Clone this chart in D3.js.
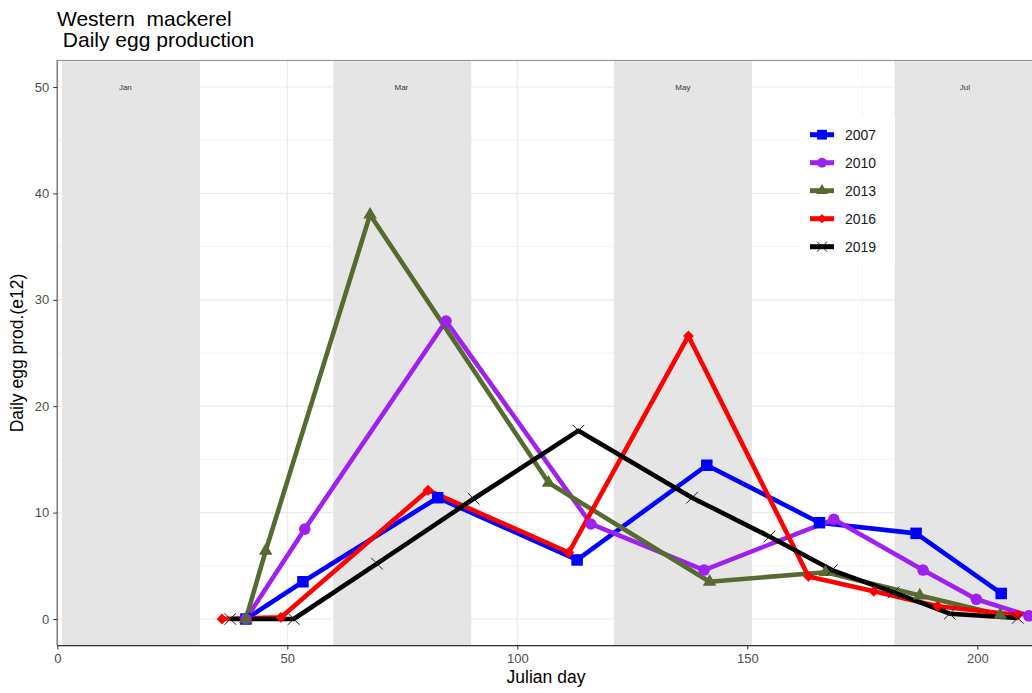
<!DOCTYPE html>
<html>
<head>
<meta charset="utf-8">
<script src="https://cdn.jsdelivr.net/npm/d3@7"></script>
<style>
  html, body { margin: 0; padding: 0; background: #fff; }
  svg { display: block; font-family: "Liberation Sans", Arial, sans-serif; }
</style>
</head>
<body>
<svg id="chart" width="1032" height="693"></svg>
<script>
// ---- data ----
const years = ["2007", "2010", "2013", "2016", "2019"];
const days2007 = [41, 53.4, 82.7, 113, 141.2, 165.7, 186.7, 205.2];
const egg2007  = [0, 3.5, 11.4, 5.55, 14.45, 9.05, 8.05, 2.4];
const days2010 = [41, 53.8, 84.5, 116, 140.6, 168.8, 188.2, 199.8, 211.2];
const egg2010  = [0, 8.45, 28.0, 8.93, 4.6, 9.37, 4.6, 1.85, 0.3];
const days2013 = [41, 45.3, 68, 106.8, 141.8, 167, 187.5, 205];
const egg2013  = [0, 6.4, 38.0, 12.8, 3.5, 4.4, 2.2, 0.4];
const days2016 = [35.8, 48.6, 80.6, 111.2, 137.2, 163.3, 177.5, 191.4, 208.8];
const egg2016  = [0, 0.15, 12.1, 6.25, 26.6, 4.0, 2.6, 1.2, 0.37];
const days2019 = [37.6, 51.4, 69.5, 90.5, 113.3, 138, 154.8, 168.4, 181.8, 194, 208.8];
const egg2019  = [0, 0, 5.2, 11.3, 17.7, 11.4, 7.75, 4.6, 2.5, 0.5, 0.1];
const monthLabels = ["Jan", "Mar", "May", "Jul"];
const monthStart  = [1, 60, 121, 182];
const monthEnd    = [31, 90, 151, 212];
const monthLabelDay = [14.8, 74.8, 136, 197.3];
const xTicks = [0, 50, 100, 150, 200];
const yTicks = [0, 10, 20, 30, 40, 50];

const seriesDays = [days2007, days2010, days2013, days2016, days2019];
const seriesEgg  = [egg2007, egg2010, egg2013, egg2016, egg2019];
const colors = ["#0000FF", "#A020F0", "#556B2F", "#FF0000", "#000000"];
const shapes = ["square", "circle", "triangle", "diamond", "cross"];

const series = years.map((y, i) => ({
  year: y, color: colors[i], shape: shapes[i],
  pts: seriesDays[i].map((d, j) => ({ x: d, y: seriesEgg[i][j] }))
}));

// ---- layout ----
const svg = d3.select("#chart");
const L = 57.3, R = 1032.5, T = 60.4, B = 645.6;
const x = d3.scaleLinear().domain([0, 212]).range([L, R]);
const y = d3.scaleLinear().domain([-2.5, 52.5]).range([B, T]);

svg.append("rect").attr("width", 1032).attr("height", 693).attr("fill", "#fff");

svg.append("clipPath").attr("id", "pclip")
  .append("rect").attr("x", L).attr("y", T).attr("width", R - L).attr("height", B - T);

const panel = svg.append("g").attr("clip-path", "url(#pclip)");

// grid
const yMinor = [5, 15, 25, 35, 45];
const xMinor = [25, 75, 125, 175];
panel.selectAll(".ymin").data(yMinor).enter().append("line")
  .attr("x1", L).attr("x2", R).attr("y1", d => y(d)).attr("y2", d => y(d))
  .attr("stroke", "#ebebeb").attr("stroke-width", 0.6);
panel.selectAll(".xmin").data(xMinor).enter().append("line")
  .attr("y1", T).attr("y2", B).attr("x1", d => x(d)).attr("x2", d => x(d))
  .attr("stroke", "#ebebeb").attr("stroke-width", 0.6);
panel.selectAll(".ymaj").data(yTicks).enter().append("line")
  .attr("x1", L).attr("x2", R).attr("y1", d => y(d)).attr("y2", d => y(d))
  .attr("stroke", "#ebebeb").attr("stroke-width", 1.2);
panel.selectAll(".xmaj").data(xTicks).enter().append("line")
  .attr("y1", T).attr("y2", B).attr("x1", d => x(d)).attr("x2", d => x(d))
  .attr("stroke", "#ebebeb").attr("stroke-width", 1.2);

// month bands
panel.selectAll(".band").data(monthLabels).enter().append("rect")
  .attr("x", (d, i) => x(monthStart[i]))
  .attr("width", (d, i) => x(monthEnd[i]) - x(monthStart[i]))
  .attr("y", T).attr("height", B - T)
  .attr("fill", "#e5e5e5");
panel.selectAll(".mlab").data(monthLabels).enter().append("text")
  .attr("x", (d, i) => x(monthLabelDay[i]))
  .attr("y", y(50)).attr("dy", "0.35em")
  .attr("text-anchor", "middle").attr("font-size", 8).attr("fill", "#333")
  .text(d => d);

// lines
const line = d3.line().x(d => x(d.x)).y(d => y(d.y));
panel.selectAll(".ser").data(series).enter().append("path")
  .attr("d", d => line(d.pts))
  .attr("fill", "none").attr("stroke", d => d.color)
  .attr("stroke-width", 4.6).attr("stroke-linejoin", "round").attr("stroke-linecap", "butt");

// markers
function drawMarker(g, shape, color, cx, cy, s) {
  s = s || 1;
  if (shape === "square") {
    const a = 11.5 * s;
    g.append("rect").attr("x", cx - a / 2).attr("y", cy - a / 2).attr("width", a).attr("height", a).attr("fill", color);
  } else if (shape === "circle") {
    g.append("circle").attr("cx", cx).attr("cy", cy).attr("r", 5.8 * s).attr("fill", color);
  } else if (shape === "triangle") {
    const r = 7.8 * s;
    const pts = [[cx, cy - r], [cx + r * 0.866, cy + r * 0.5], [cx - r * 0.866, cy + r * 0.5]];
    g.append("polygon").attr("points", pts.map(p => p.join(",")).join(" ")).attr("fill", color);
  } else if (shape === "diamond") {
    const r = 5.4 * s;
    const pts = [[cx, cy - r], [cx + r, cy], [cx, cy + r], [cx - r, cy]];
    g.append("polygon").attr("points", pts.map(p => p.join(",")).join(" ")).attr("fill", color);
  } else if (shape === "cross") {
    const r = 5.8 * s;
    g.append("path").attr("d", `M${cx - r},${cy - r}L${cx + r},${cy + r}M${cx - r},${cy + r}L${cx + r},${cy - r}`)
      .attr("stroke", "#222").attr("stroke-width", 1).attr("fill", "none");
  }
}
series.forEach(s => {
  const g = panel.append("g");
  s.pts.forEach(p => drawMarker(g, s.shape, s.color, x(p.x), y(p.y)));
});

// panel border
svg.append("rect").attr("x", L).attr("y", T).attr("width", R - L).attr("height", B - T)
  .attr("fill", "none").attr("stroke", "#8c8c8c").attr("stroke-width", 1);
svg.append("line").attr("x1", L).attr("x2", L).attr("y1", T).attr("y2", B)
  .attr("stroke", "#888").attr("stroke-width", 1.6);
svg.append("line").attr("x1", L).attr("x2", R).attr("y1", B).attr("y2", B)
  .attr("stroke", "#333").attr("stroke-width", 1.1);

// axes
const xAxis = d3.axisBottom(x).tickValues(xTicks).tickSize(4).tickPadding(4).tickFormat(d3.format("d"));
const gx = svg.append("g").attr("transform", `translate(0,${B})`).call(xAxis);
gx.select(".domain").remove();
gx.selectAll(".tick line").attr("stroke", "#333");
gx.selectAll(".tick text").attr("fill", "#4d4d4d").attr("font-size", 13)
  .attr("font-family", "Liberation Sans, Arial, sans-serif");

const yAxis = d3.axisLeft(y).tickValues(yTicks).tickSize(4).tickPadding(4).tickFormat(d3.format("d"));
const gy = svg.append("g").attr("transform", `translate(${L},0)`).call(yAxis);
gy.select(".domain").remove();
gy.selectAll(".tick line").attr("stroke", "#333");
gy.selectAll(".tick text").attr("fill", "#4d4d4d").attr("font-size", 13)
  .attr("font-family", "Liberation Sans, Arial, sans-serif");

// axis titles
svg.append("text").attr("x", 546).attr("y", 683).attr("text-anchor", "middle")
  .attr("font-size", 17.5).attr("fill", "#000").text("Julian day");
svg.append("text").attr("transform", "translate(23,353) rotate(-90)").attr("text-anchor", "middle")
  .attr("font-size", 17.5).attr("fill", "#000").text("Daily egg prod.(e12)");

// title
svg.append("text").attr("x", 57).attr("y", 26).attr("font-size", 21).attr("fill", "#000")
  .style("white-space", "pre").text("Western  mackerel");
svg.append("text").attr("x", 57).attr("y", 47).attr("font-size", 21).attr("fill", "#000")
  .style("white-space", "pre").text(" Daily egg production");

// legend
const lg = svg.append("g");
lg.append("rect").attr("x", 800).attr("y", 116).attr("width", 95).attr("height", 148).attr("fill", "#fff");
series.forEach((s, i) => {
  const cy = 134.7 + i * 28;
  lg.append("line").attr("x1", 810).attr("x2", 834).attr("y1", cy).attr("y2", cy)
    .attr("stroke", s.color).attr("stroke-width", 5);
  drawMarker(lg, s.shape, s.color, 822, cy, 0.85);
  lg.append("text").attr("x", 845).attr("y", cy).attr("dy", "0.36em")
    .attr("font-size", 14).attr("fill", "#1a1a1a").text(s.year);
});
</script>
</body>
</html>
